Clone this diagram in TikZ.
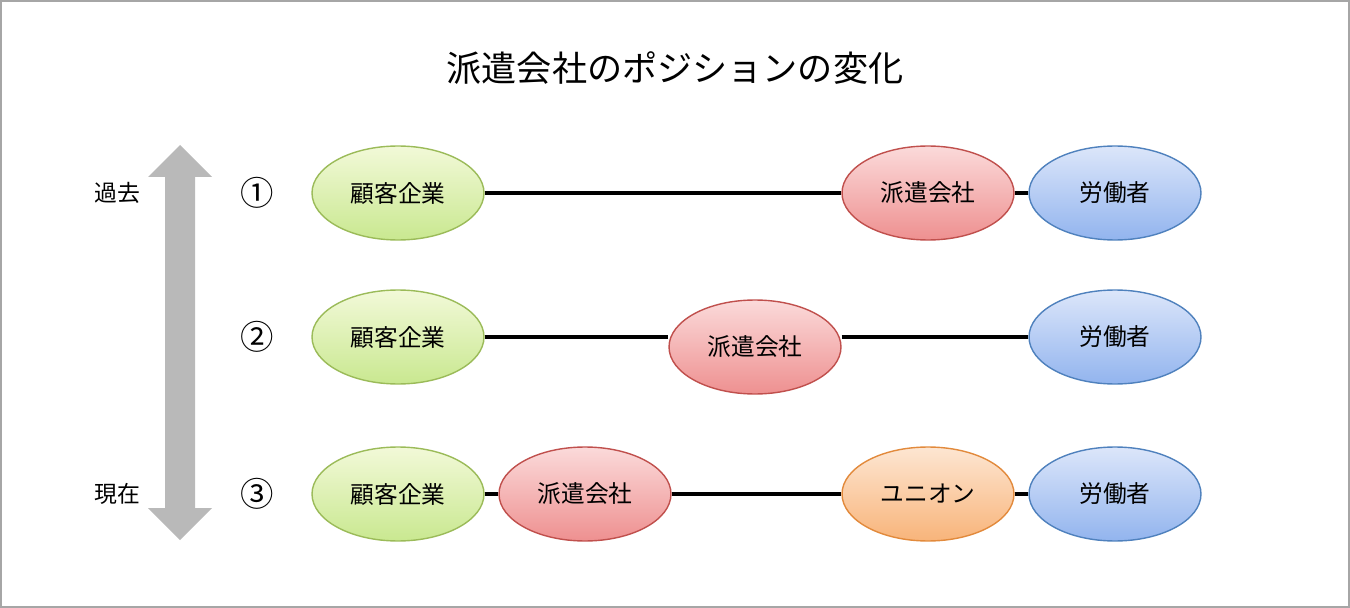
\documentclass[tikz,border=0pt]{standalone}
\usepackage{fontspec}
\setmainfont{Noto Sans CJK JP}
\usetikzlibrary{shapes.geometric}
\definecolor{gfill1}{HTML}{F2F9D8}\definecolor{gfill2}{HTML}{C9E890}\definecolor{gline}{HTML}{9BBB59}
\definecolor{rfill1}{HTML}{FBDADA}\definecolor{rfill2}{HTML}{EE9090}\definecolor{rline}{HTML}{C0504D}
\definecolor{bfill1}{HTML}{DCE6FA}\definecolor{bfill2}{HTML}{92B4EE}\definecolor{bline}{HTML}{4F81BD}
\definecolor{ofill1}{HTML}{FDE6D2}\definecolor{ofill2}{HTML}{F8B47A}\definecolor{oline}{HTML}{E28A3C}
\tikzset{
 ell/.style={ellipse,minimum width=3.44cm,minimum height=1.88cm,line width=0.8pt,font=\fontsize{13.5}{16}\selectfont,inner sep=0pt},
 grn/.style={ell,draw=gline,top color=gfill1,bottom color=gfill2},
 red/.style={ell,draw=rline,top color=rfill1,bottom color=rfill2},
 blu/.style={ell,draw=bline,top color=bfill1,bottom color=bfill2},
 org/.style={ell,draw=oline,top color=ofill1,bottom color=ofill2},
 conn/.style={line width=2.2pt},
 lbl/.style={font=\fontsize{13}{15}\selectfont},
 num/.style={font=\fontsize{19}{22}\selectfont}
}
\begin{document}
\begin{tikzpicture}[x=0.02cm,y=-0.02cm]
\path[use as bounding box] (0,0) rectangle (1350,608);
\draw[gray!70,line width=1pt] (1,1) rectangle (1349,607);
\node (title) at (675,68) {\fontsize{20}{24}\selectfont 派遣会社のポジションの変化};
\fill[gray!55] (180,145) -- (212,177) -- (195,177) -- (195,508) -- (212,508) -- (180,540) -- (148,508) -- (165,508) -- (165,177) -- (148,177) -- cycle;
\node[lbl] (past) at (117,193) {過去};
\node[lbl] (now) at (117,494) {現在};
\node[num] (n1) at (257,193) {①};
\node[num] (n2) at (257,337) {②};
\node[num] (n3) at (257,494) {③};
% row 1
\node[grn] (a1) at (398,193) {顧客企業};
\node[red] (b1) at (928,193) {派遣会社};
\node[blu] (c1) at (1115,193) {労働者};
\draw[conn] (a1) -- (b1); \draw[conn] (b1) -- (c1);
% row 2
\node[grn] (a2) at (398,337) {顧客企業};
\node[red] (b2) at (755,347) {派遣会社};
\node[blu] (c2) at (1115,337) {労働者};
\draw[conn] (a2.east) -- (b2.west|-a2.east); \draw[conn] (b2.east|-c2.west) -- (c2.west);
% row 3
\node[grn] (a3) at (398,494) {顧客企業};
\node[red] (b3) at (585,494) {派遣会社};
\node[org] (u3) at (928,494) {ユニオン};
\node[blu] (c3) at (1115,494) {労働者};
\draw[conn] (a3) -- (b3); \draw[conn] (b3) -- (u3); \draw[conn] (u3) -- (c3);
\end{tikzpicture}
\end{document}
